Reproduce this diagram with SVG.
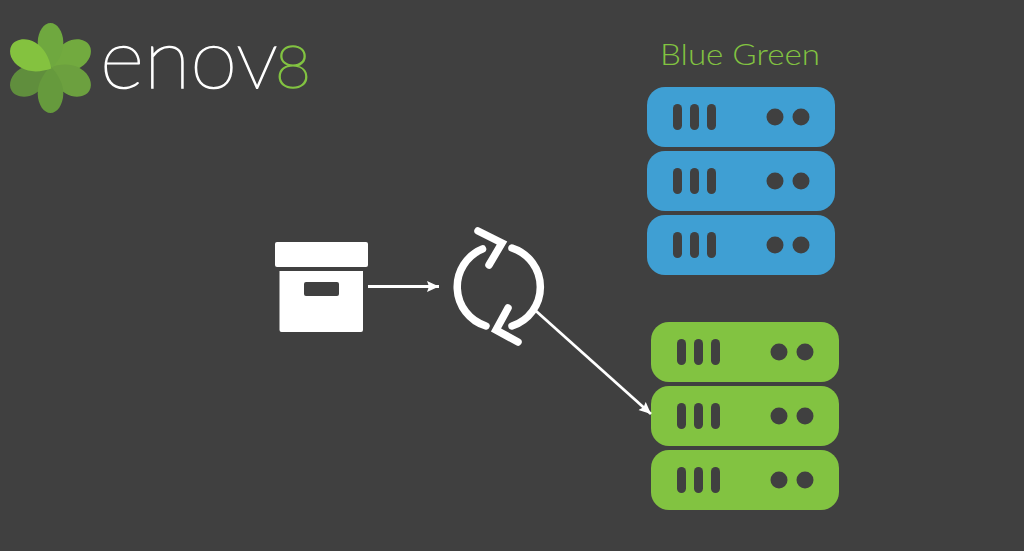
<svg xmlns="http://www.w3.org/2000/svg" width="1024" height="551" viewBox="0 0 1024 551">
<defs>
<marker id="ah" markerUnits="userSpaceOnUse" markerWidth="14" markerHeight="12" refX="12" refY="6" orient="auto"><path d="M0 .5L12 6L0 11.500L2 6Z" fill="#fff"/></marker>
<g id="srv"><rect width="188" height="60" rx="18"/><g fill="#404040"><rect x="26" y="17" width="9" height="26" rx="4.500"/><rect x="43" y="17" width="9" height="26" rx="4.500"/><rect x="60" y="17" width="9" height="26" rx="4.500"/><circle cx="128" cy="30" r="8.500"/><circle cx="154" cy="30" r="8.500"/></g></g>
<path id="pt" d="M0 2C-8 -7 -13 -16 -12.800 -26C-12.500 -37 -6.500 -45 0 -45C6.500 -45 12.500 -37 12.800 -26C13 -16 8 -7 0 2Z"/>
<path id="pw" d="M0 1C-8 -6 -14.500 -15 -14.500 -26C-14.500 -37 -7.500 -45 0 -45C7.500 -45 14.500 -37 14.500 -26C14.500 -15 8 -6 0 1Z"/>
</defs>
<style>
.cy{fill:none;stroke:#fff;stroke-width:7.500;stroke-linecap:round;stroke-linejoin:miter}
.ln{stroke:#fff;stroke-width:2.800;fill:none;marker-end:url(#ah)}
.lg{font-family:"Lato","Liberation Sans",sans-serif;font-weight:200;stroke-width:1.400}
</style>
<rect width="1024" height="551" fill="#404040"/>
<g id="logo">
<g id="petals" transform="translate(50.500 68)">
<use href="#pw" fill="#72aa3f" transform="rotate(60)"/>
<use href="#pw" fill="#6ca03f" transform="rotate(120)"/>
<use href="#pw" fill="#608e3d" transform="rotate(240)"/>
<use href="#pt" fill="#6fa83f"/>
<use href="#pt" fill="#669a3d" transform="rotate(180)"/>
<use href="#pw" fill="#84c23f" transform="rotate(300)"/>
</g>
<text class="lg" x="100" y="88" font-size="84" fill="#fff" stroke="#fff" textLength="178" lengthAdjust="spacingAndGlyphs">enov</text>
<text class="lg" x="275" y="88" font-size="59" fill="#82c341" stroke="#82c341" textLength="36" lengthAdjust="spacingAndGlyphs">8</text>
</g>
<text id="title" x="740" y="65" text-anchor="middle" font-family="Lato,'Liberation Sans',sans-serif" font-weight="300" font-size="29" fill="#82c341" textLength="160" lengthAdjust="spacingAndGlyphs">Blue Green</text>
<g id="box" fill="#fff">
<rect x="275" y="242" width="93" height="25" rx="2"/>
<path fill-rule="evenodd" d="M279.500 271H363V330a2 2 0 0 1-2 2H281.500a2 2 0 0 1-2-2ZM306 282a2 2 0 0 0-2 2V294a2 2 0 0 0 2 2H337a2 2 0 0 0 2-2V284a2 2 0 0 0-2-2Z"/>
</g>
<g id="cycle" class="cy">
<path d="M482.500 249A41 41 0 0 0 486 326"/>
<path d="M512 248A41 41 0 0 1 512 326"/>
<path d="M478 231L502 243L489 265"/>
<path d="M508 308L496 330L518 342"/>
</g>
<g id="blue-servers">
<g id="b1" fill="#3f9fd3"><use href="#srv" x="647" y="87"/></g>
<g id="b2" fill="#3f9fd3"><use href="#srv" x="647" y="151"/></g>
<g id="b3" fill="#3f9fd3"><use href="#srv" x="647" y="215"/></g>
</g>
<g id="green-servers">
<g id="g1" fill="#82c341"><use href="#srv" x="651" y="322"/></g>
<g id="g2" fill="#82c341"><use href="#srv" x="651" y="386"/></g>
<g id="g3" fill="#82c341"><use href="#srv" x="651" y="450"/></g>
</g>
<g id="connectors">
<path class="ln" d="M368 286.500H439"/>
<path class="ln" d="M536 311L651 414"/>
</g>
</svg>
